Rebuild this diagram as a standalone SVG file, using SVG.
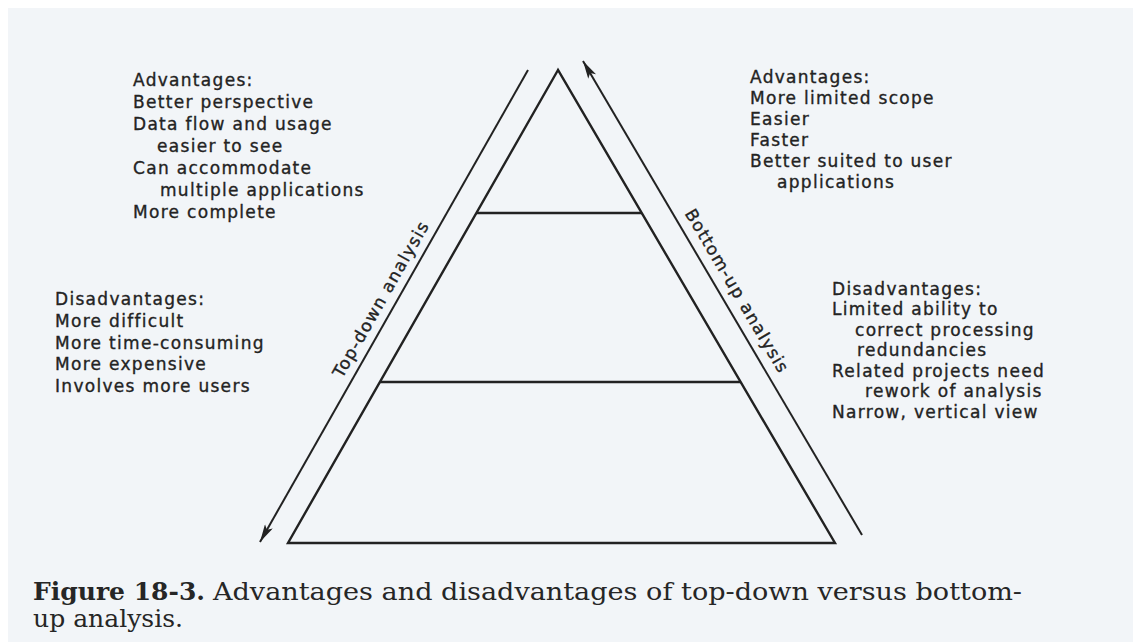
<svg xmlns="http://www.w3.org/2000/svg" width="1133" height="642" viewBox="0 0 1133 642">
  <defs>
    <style>
      .ln { stroke: #222222; stroke-width: 2.4; fill: none; stroke-linejoin: miter; }
      .ar { stroke: #222222; stroke-width: 2; fill: none; }
      .tx { font-family: "DejaVu Sans", "Liberation Sans", sans-serif; font-size: 17px; letter-spacing: 1.3px; fill: #232323; stroke: #232323; stroke-width: 0.35px; }
      .lb { font-family: "DejaVu Sans", "Liberation Sans", sans-serif; font-size: 17px; letter-spacing: 1.3px; fill: #232323; stroke: #232323; stroke-width: 0.35px; }
      .cap { font-family: "DejaVu Serif", "Liberation Serif", serif; font-size: 24px; fill: #262626; }
      .capb { font-weight: bold; }
    </style>
    <marker id="head" viewBox="0 0 18 9" refX="18" refY="4.5" markerWidth="18" markerHeight="9" markerUnits="userSpaceOnUse" orient="auto">
      <path d="M0,0 L18,4.5 L0,9 L4,4.5 z" fill="#222222"/>
    </marker>
  </defs>

  <rect x="0" y="0" width="1133" height="642" fill="#ffffff"/>
  <rect x="8" y="8" width="1125" height="634" fill="#f2f5f8"/>

  <g id="pyramid">
    <path class="ln" d="M558,70 L288,543 L835,543 Z"/>
    <line class="ln" x1="476" y1="213" x2="642" y2="213"/>
    <line class="ln" x1="380" y1="382" x2="741" y2="382"/>
  </g>

  <g id="connectors">
    <line class="ar" x1="528" y1="70" x2="260" y2="542" marker-end="url(#head)"/>
    <line class="ar" x1="862" y1="535" x2="583" y2="61" marker-end="url(#head)"/>
  </g>

  <g id="top-down-label">
    <text class="lb" text-anchor="middle" transform="translate(386,302) rotate(-60.4)">Top-down analysis</text>
  </g>
  <g id="bottom-up-label">
    <text class="lb" text-anchor="middle" transform="translate(732,294) rotate(59.5)">Bottom-up analysis</text>
  </g>

  <g id="topdown-advantages">
    <text class="tx">
      <tspan x="133" y="86">Advantages:</tspan>
      <tspan x="133" y="108">Better perspective</tspan>
      <tspan x="133" y="130">Data flow and usage</tspan>
      <tspan x="157" y="152">easier to see</tspan>
      <tspan x="133" y="174">Can accommodate</tspan>
      <tspan x="160" y="196">multiple applications</tspan>
      <tspan x="133" y="218">More complete</tspan>
    </text>
  </g>

  <g id="topdown-disadvantages">
    <text class="tx">
      <tspan x="55" y="305">Disadvantages:</tspan>
      <tspan x="55" y="327">More difficult</tspan>
      <tspan x="55" y="349">More time-consuming</tspan>
      <tspan x="55" y="370">More expensive</tspan>
      <tspan x="55" y="392">Involves more users</tspan>
    </text>
  </g>

  <g id="bottomup-advantages">
    <text class="tx">
      <tspan x="750" y="83">Advantages:</tspan>
      <tspan x="750" y="104">More limited scope</tspan>
      <tspan x="750" y="125">Easier</tspan>
      <tspan x="750" y="146">Faster</tspan>
      <tspan x="750" y="167">Better suited to user</tspan>
      <tspan x="777" y="188">applications</tspan>
    </text>
  </g>

  <g id="bottomup-disadvantages">
    <text class="tx">
      <tspan x="832" y="295">Disadvantages:</tspan>
      <tspan x="832" y="315">Limited ability to</tspan>
      <tspan x="855" y="336">correct processing</tspan>
      <tspan x="857" y="356">redundancies</tspan>
      <tspan x="832" y="377">Related projects need</tspan>
      <tspan x="865" y="397">rework of analysis</tspan>
      <tspan x="832" y="418">Narrow, vertical view</tspan>
    </text>
  </g>

  <g id="caption">
    <text class="cap capb" x="33" y="600" textLength="172" lengthAdjust="spacingAndGlyphs">Figure 18-3.</text>
    <text class="cap" x="213" y="600" textLength="809" lengthAdjust="spacingAndGlyphs">Advantages and disadvantages of top-down versus bottom-</text>
    <text class="cap" x="33" y="627" textLength="150" lengthAdjust="spacingAndGlyphs">up analysis.</text>
  </g>
</svg>
